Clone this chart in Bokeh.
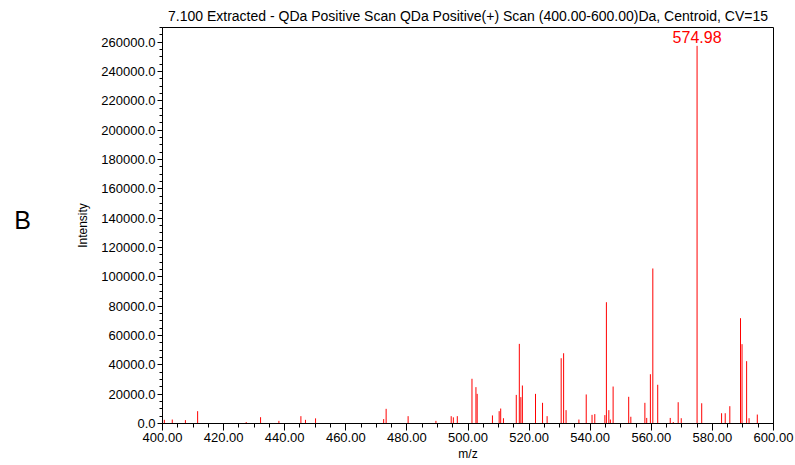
from bokeh.plotting import figure
from bokeh.layouts import row
from bokeh.models import (FixedTicker, NumeralTickFormatter, Label, Range1d)
from bokeh.core.properties import value
from bokeh.embed import file_html
from bokeh.resources import INLINE

# Centroid peaks of the extracted QDa positive scan (m/z, intensity)
mz = [400.6, 403.2, 407.5, 411.5, 427.4, 432.1, 438.1, 445.3, 446.8, 450.1,
      472.4, 473.2, 480.4, 489.5, 494.5, 495.2, 496.5, 501.3, 502.6, 503.0,
      508.0, 510.2, 510.7, 511.6, 515.8, 516.8, 517.3, 517.8, 522.1, 524.4,
      525.9, 530.5, 531.3, 532.1, 536.3, 538.7, 540.6, 541.5, 544.8, 545.3,
      546.1, 546.6, 547.5, 552.6, 553.3, 557.9, 558.5, 559.7, 560.5, 562.1,
      566.2, 567.2, 568.8, 569.8, 574.98, 576.5, 583.0, 584.2, 585.7, 589.2,
      589.7, 591.2, 592.0, 594.7]
intensity = [2500, 2700, 2300, 8400, 1000, 4300, 1800, 5000, 2500, 3500,
             3000, 10000, 5000, 1800, 5000, 4200, 5000, 30500, 24800, 20200,
             5500, 8400, 10200, 3600, 19500, 54300, 18000, 25900, 20200, 14100,
             5000, 44500, 47900, 9100, 2700, 19800, 5900, 6400, 5700, 82700,
             9100, 2700, 25200, 18200, 4600, 14100, 3800, 33600, 105700, 26400,
             3800, 1000, 14500, 3600, 257500, 13800, 7000, 7000, 11800, 71800,
             54100, 42500, 3600, 6100]

base_peak_mz = 574.98
base_peak_label = "574.98"
panel_letter = "B"
title_text = ("7.100 Extracted - QDa Positive Scan QDa Positive(+) Scan "
              "(400.00-600.00)Da, Centroid, CV=15")

x_major = list(range(400, 601, 20))
x_minor = list(range(400, 601, 5))
y_major = list(range(0, 260001, 20000))
y_minor = list(range(0, 270001, 5000))

FONT = "Liberation Sans"
LETTER_W = 40
TOTAL_W, TOTAL_H = 795, 465

# narrow strip on the left that carries the panel letter
strip = figure(width=LETTER_W, height=TOTAL_H, output_backend="svg",
               toolbar_location=None, x_range=Range1d(0, LETTER_W),
               y_range=Range1d(0, TOTAL_H), min_border=0)
strip.axis.visible = False
strip.grid.visible = False
strip.outline_line_color = None
strip.text(x=[22], y=[TOTAL_H - 226], text=[panel_letter],
           text_align="center", text_baseline="middle",
           text_font=value(FONT), text_font_size="25px", text_color="#000000")

p = figure(width=TOTAL_W - LETTER_W, height=TOTAL_H, output_backend="svg",
           toolbar_location=None,
           x_range=Range1d(400, 600), y_range=Range1d(0, 270000),
           min_border_left=162 - LETTER_W, min_border_right=22,
           min_border_top=27, min_border_bottom=42, title=title_text)

p.title.text_font = FONT
p.title.text_font_size = "14px"
p.title.text_font_style = "normal"
p.title.text_color = "#000000"
p.title.align = "center"
p.title.standoff = 8

p.outline_line_color = "#000000"
p.outline_line_width = 1
p.xgrid.visible = False
p.ygrid.visible = False
p.background_fill_color = "white"
p.border_fill_color = "white"

# spectrum sticks
p.segment(x0=mz, y0=[0] * len(mz), x1=mz, y1=intensity,
          line_color="#ff0000", line_width=1)

# base peak annotation
bp = intensity[mz.index(base_peak_mz)]
p.add_layout(Label(x=base_peak_mz, y=bp, text=base_peak_label,
                   text_align="center", text_baseline="bottom", y_offset=3,
                   text_color="#ff0000", text_font=FONT,
                   text_font_size="16px"))

for ax in (p.xaxis[0], p.yaxis[0]):
    ax.axis_line_color = "#000000"
    ax.major_tick_line_color = "#000000"
    ax.minor_tick_line_color = "#000000"
    ax.major_tick_in = 0
    ax.minor_tick_in = 0
    ax.major_label_text_font = FONT
    ax.major_label_text_font_size = "13px"
    ax.major_label_text_color = "#000000"
    ax.axis_label_text_font = FONT
    ax.axis_label_text_font_size = "12px"
    ax.axis_label_text_font_style = "normal"
    ax.axis_label_text_color = "#000000"

p.xaxis.ticker = FixedTicker(ticks=x_major, minor_ticks=x_minor)
p.xaxis.formatter = NumeralTickFormatter(format="0.00")
p.xaxis.major_tick_out = 7
p.xaxis.minor_tick_out = 4
p.xaxis.major_label_standoff = 2
p.xaxis.axis_label = "m/z"
p.xaxis.axis_label_standoff = 2

p.yaxis.ticker = FixedTicker(ticks=y_major, minor_ticks=y_minor)
p.yaxis.formatter = NumeralTickFormatter(format="0.0")
p.yaxis.major_tick_out = 5
p.yaxis.minor_tick_out = 3
p.yaxis.major_label_standoff = 2
p.yaxis.axis_label = "Intensity"
p.yaxis.axis_label_standoff = 8

layout = row(strip, p, spacing=0)
open("out.html", "w").write(file_html(layout, INLINE))
